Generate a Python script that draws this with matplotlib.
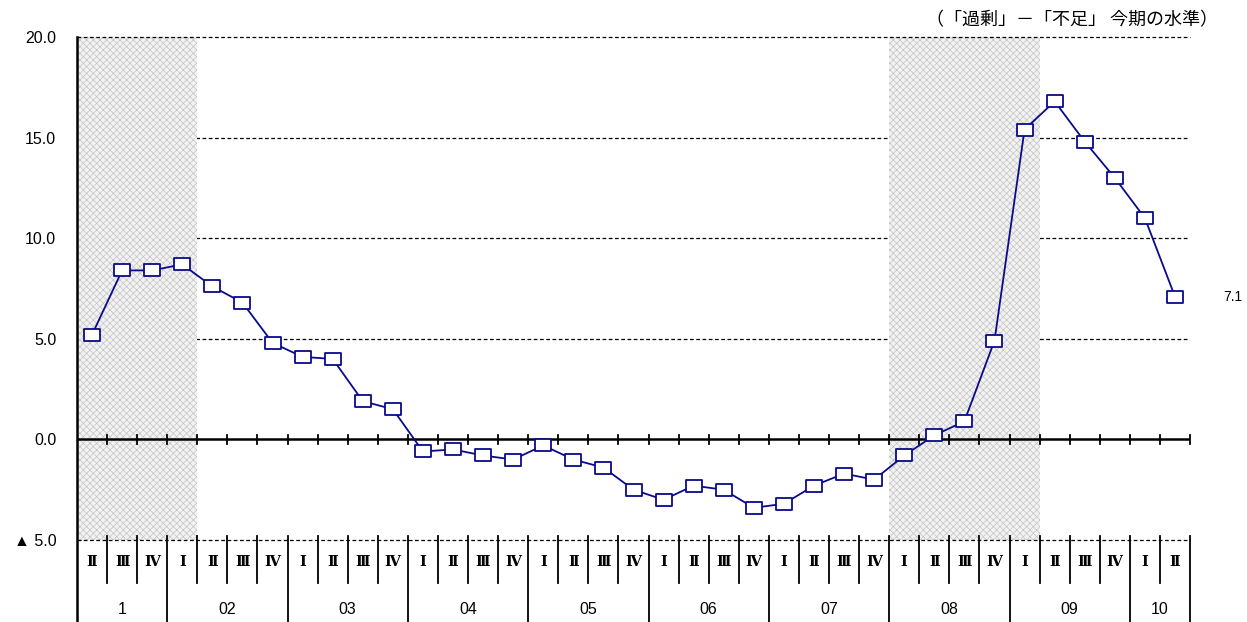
import matplotlib
matplotlib.use("Agg")
import matplotlib.pyplot as plt
import matplotlib.transforms as mtransforms
from matplotlib.path import Path

plt.rcParams['font.family'] = ['Liberation Sans', 'DejaVu Sans', 'Noto Sans CJK JP']
plt.rcParams['hatch.linewidth'] = 0.5

# 2001 II期 〜 2010 II期
years = ['1', '02', '03', '04', '05', '06', '07', '08', '09', '10']
quarters_per_year = [3, 4, 4, 4, 4, 4, 4, 4, 4, 2]
quarter_labels = (['Ⅱ', 'Ⅲ', 'Ⅳ'] + ['Ⅰ', 'Ⅱ', 'Ⅲ', 'Ⅳ'] * 8 + ['Ⅰ', 'Ⅱ'])
values = [5.2, 8.4, 8.4, 8.7, 7.6, 6.8, 4.8,
          4.1, 4.0, 1.9, 1.5,
          -0.6, -0.5, -0.8, -1.0,
          -0.3, -1.0, -1.4, -2.5,
          -3.0, -2.3, -2.5, -3.4,
          -3.2, -2.3, -1.7, -2.0,
          -0.8, 0.2, 0.9, 4.9,
          15.4, 16.8, 14.8, 13.0,
          11.0, 7.1]
# 網掛け期間 (開始インデックス, 終了インデックス)
recessions = [(0, 3), (27, 31)]
yticks = [20, 15, 10, 5, 0, -5]
ytick_labels = ['20.0', '15.0', '10.0', '5.0', '0.0', '▲ 5.0']
title = '（「過剰」－「不足」 今期の水準）'

W, H = 1247, 622
fig = plt.figure(figsize=(W / 100, H / 100), dpi=100)
ax = fig.add_axes([77 / W, (H - 540) / H, (1190 - 77) / W, (540 - 37) / H])

n = len(values)
x = [i + 0.5 for i in range(n)]
ax.set_xlim(0, n)
ax.set_ylim(-5, 20)

# グリッド線
for y in [5, 10, 15]:
    ax.axhline(y, color='black', lw=0.9, ls=(0, (3, 2)), zorder=1)
for y in [20, -5]:
    ax.axhline(y, color='black', lw=0.9, ls=(0, (3, 2)), zorder=3, clip_on=False)

# 網掛け
for a, b in recessions:
    ax.axvspan(a, b + 1, facecolor='#f2f2f2', edgecolor='#c4c4c4',
               hatch='xxxxx', lw=0, zorder=2)

# ゼロ線と目盛り
ax.axhline(0, color='black', lw=1.8, zorder=4)
tr = mtransforms.blended_transform_factory(ax.transData, ax.transAxes)
px = 1 / 503
zero = 5 / 25
for i in range(1, n + 1):
    ax.plot([i, i], [zero - 4.5 * px, zero + 4.5 * px], color='black', lw=1.3,
            transform=tr, zorder=4, clip_on=False)

# 折れ線
box = Path([(-1, -0.78), (1, -0.78), (1, 0.78), (-1, 0.78), (-1, -0.78)],
           [Path.MOVETO, Path.LINETO, Path.LINETO, Path.LINETO, Path.CLOSEPOLY])
ax.plot(x, values, color='#0a0a8c', lw=1.3, marker=box, markersize=11,
        markerfacecolor='white', markeredgecolor='#0a0a8c', markeredgewidth=1.3,
        zorder=5)
ax.text(n + 1.1, values[-1], f'{values[-1]:.1f}', fontsize=10, va='center', ha='left')

# 軸
for s in ['top', 'right', 'bottom', 'left']:
    ax.spines[s].set_visible(False)
ax.plot([0, 0], [1, -85 / 503], color='black', lw=1.8, transform=tr,
        clip_on=False, zorder=6)
ax.set_xticks([])
ax.set_yticks(yticks)
ax.set_yticklabels(ytick_labels, fontsize=11.5)
ax.tick_params(axis='y', length=3, direction='in', pad=15)

# 下の表
q_top = 4 * px
q_bot = -43 * px
y_bot = -85 * px
year_bounds = [0]
for q in quarters_per_year:
    year_bounds.append(year_bounds[-1] + q)
for i in range(1, n + 1):
    lo = y_bot if i in year_bounds else q_bot
    ax.plot([i, i], [q_top, lo], color='black', lw=1.3, transform=tr,
            clip_on=False, zorder=6)
for i, q in enumerate(quarter_labels):
    ax.text(i + 0.5, -22 * px, q, transform=tr, ha='center', va='center',
            fontsize=10.5, family=['DejaVu Serif', 'Noto Sans CJK JP'],
            fontweight='bold')
for k, yl in enumerate(years):
    c = (year_bounds[k] + year_bounds[k + 1]) / 2
    ax.text(c, -70 * px, yl, transform=tr, ha='center', va='center', fontsize=11.5)

fig.text(1218 / W, 1 - 20 / H, title, ha='right', va='center', fontsize=13,
         family=['Noto Sans CJK JP', 'DejaVu Sans'])

fig.savefig('out.png', dpi=100)
